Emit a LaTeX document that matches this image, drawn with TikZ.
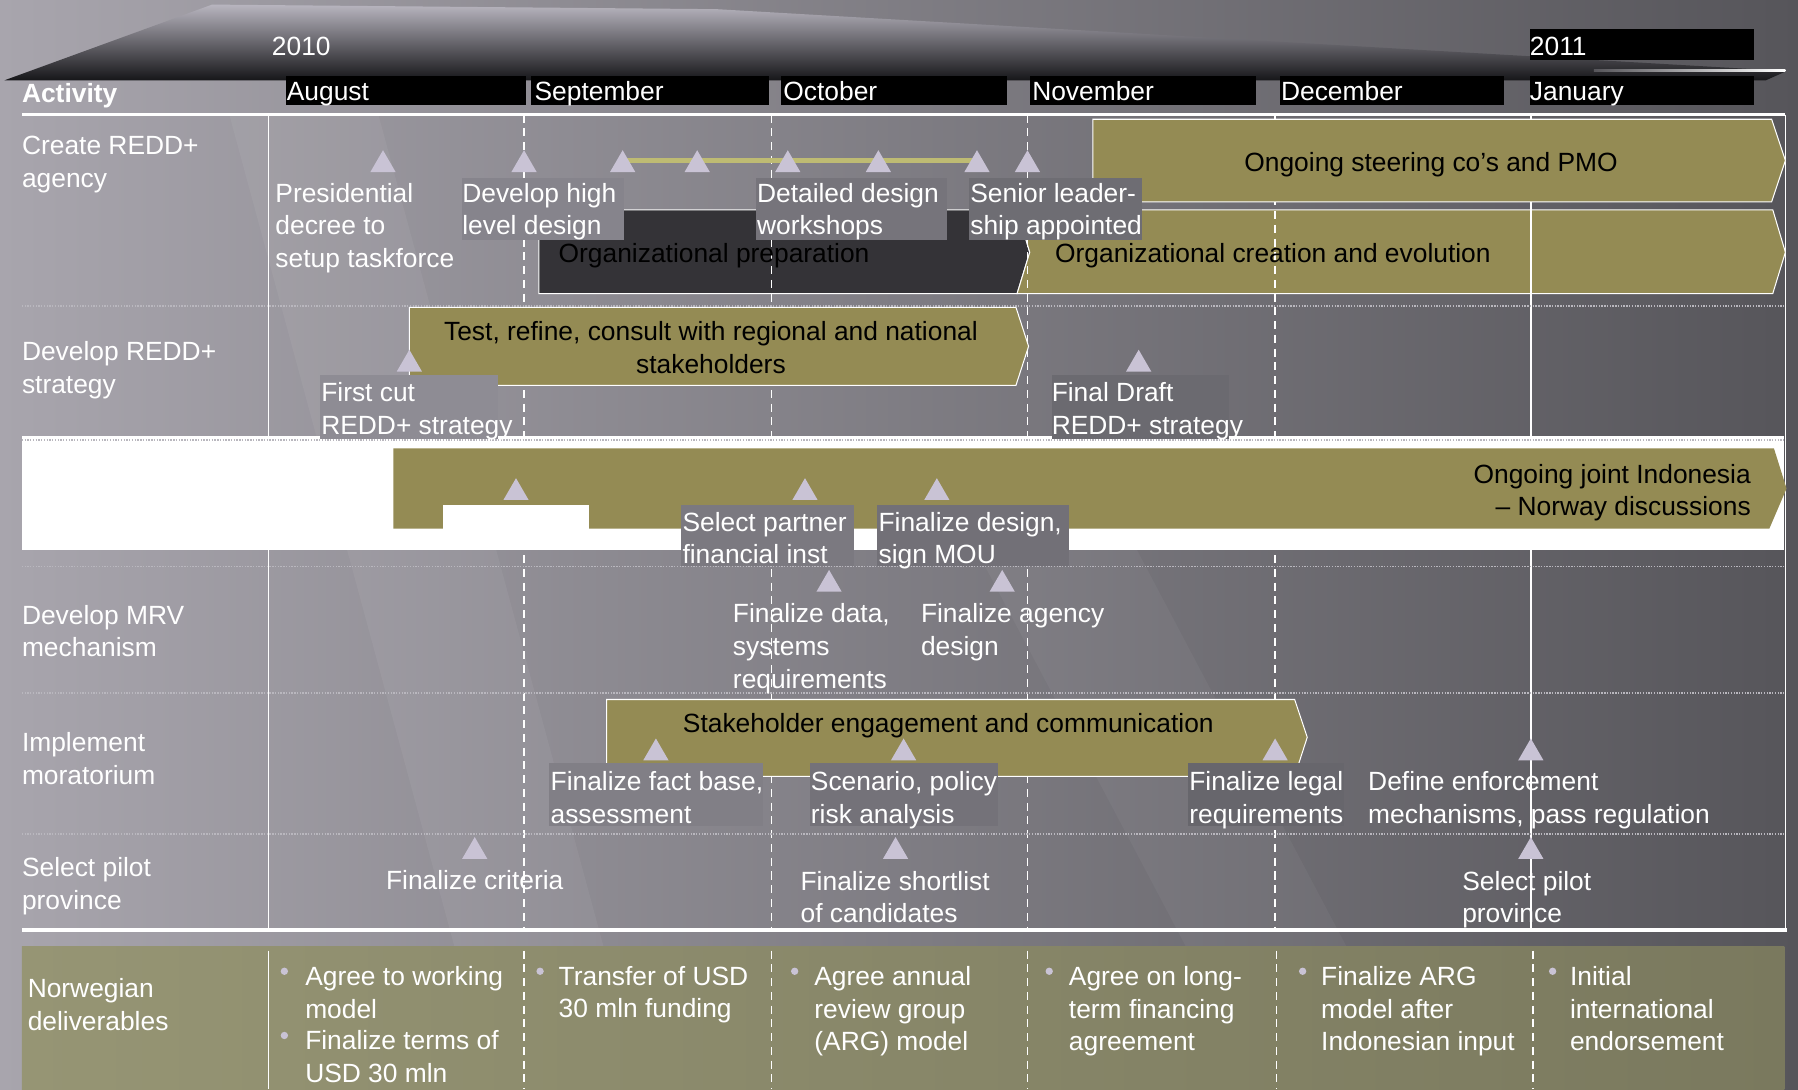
\documentclass[tikz,border=0pt]{standalone}
\usepackage{fontspec}
\setmainfont{Liberation Sans}
\definecolor{bgL}{RGB}{168,165,173}
\definecolor{bgM}{RGB}{118,116,123}
\definecolor{bgR}{RGB}{86,85,90}
\definecolor{olv}{RGB}{148,139,84}
\definecolor{dk}{RGB}{52,51,55}
\definecolor{tric}{RGB}{201,195,213}
\definecolor{ylw}{RGB}{190,187,115}
\definecolor{sepc}{RGB}{185,183,190}
\definecolor{wT}{RGB}{184,181,191}
\definecolor{wM}{RGB}{112,110,118}
\definecolor{wB}{RGB}{22,22,25}
\definecolor{dL}{RGB}{150,149,116}
\definecolor{dR}{RGB}{122,121,94}
\definecolor{bxA}{RGB}{134,132,140}
\definecolor{bxB}{RGB}{118,116,123}
\definecolor{bxC}{RGB}{110,109,115}
\definecolor{bxD}{RGB}{142,140,148}
\definecolor{bxE}{RGB}{107,106,112}
\definecolor{bxF}{RGB}{123,121,128}
\definecolor{bxG}{RGB}{114,112,119}
\definecolor{bxH}{RGB}{129,127,134}
\definecolor{bxI}{RGB}{116,114,121}
\definecolor{bxJ}{RGB}{103,102,108}
\newcommand\mtri[2]{\fill[tric] (#1-11,#2) -- (#1,#2-19) -- (#1+11,#2) -- cycle;}
\begin{document}
\begin{tikzpicture}[x=1pt,y=-1pt,
  lab/.style={font=\fontsize{23}{28.5}\selectfont, inner sep=0pt, text=white},
  ml/.style={lab, align=left, anchor=north west, yshift=-3pt, execute at begin node=\strut},
  sl/.style={lab, anchor=base west},
  blk/.style={text=black},
  chev/.style={fill=olv, draw=white, line width=0.9pt},
  gsolid/.style={white, line width=1.3pt},
  gdash/.style={white, line width=1.3pt, dash pattern=on 7pt off 5pt},
  sepline/.style={sepc, line width=1.6pt, dash pattern=on 1.2pt off 1.2pt},
]
\useasboundingbox (0,0) rectangle (1568,950);
% background
\shade[left color=bgL, middle color=bgM, right color=bgR] (0,0) rectangle (1568,950);
\fill[white, opacity=0.05] (200,100) -- (330,100) -- (560,950) -- (430,950) -- cycle;
\fill[white, opacity=0.04] (820,420) -- (960,420) -- (1240,950) -- (1100,950) -- cycle;
% top wedge
\shade[top color=wT, middle color=wM, bottom color=wB] (4,70) -- (185,4) -- (625,8) -- (1558,62) -- (1540,70) -- cycle;
\shade[left color=bgR, right color=white] (1390,60.3) rectangle (1557,62.3);
\node[sl] (y10) at (237,48) {2010};
\fill[black] (1334,25) rectangle (1530,52);
\node[sl] (y11) at (1334,48) {2011};
% month boxes
\fill[black] (249,66) rectangle (459,92);
\fill[black] (463,66) rectangle (671,92);
\fill[black] (681,66) rectangle (878,92);
\fill[black] (898,66) rectangle (1095,92);
\fill[black] (1116,66) rectangle (1312,92);
\fill[black] (1334,66) rectangle (1530,92);
\node[sl] (aug) at (250,88) {August};
\node[sl] (sep) at (466,88) {September};
\node[sl] (oct) at (683,88) {October};
\node[sl] (nov) at (900,88) {November};
\node[sl] (dec) at (1117,88) {December};
\node[sl] (jan) at (1334,88) {January};
\node[sl, font=\fontsize{23}{28}\selectfont\bfseries] (act) at (19,89.5) {Activity};
% row 1 lower chevrons (below grid lines)
\draw[fill=dk, draw=white, line width=0.9pt] (470,183) -- (887,183) -- (898,220) -- (887,256) -- (470,256) -- cycle;
\draw[chev] (887,183) -- (1546,183) -- (1557,220) -- (1546,256) -- (887,256) -- (898,220) -- cycle;
% grid
\draw[gsolid] (234,100) -- (234,811);
\draw[gsolid] (1335,100) -- (1335,811);
\foreach \gx in {457,673,896,1112} \draw[gdash] (\gx,100) -- (\gx,811);
% Norway band
\fill[white] (19,380) rectangle (1556,480);
% separators
\foreach \sy in {267,384,494,604,727} \draw[sepline] (19,\sy) -- (1556,\sy);
% frame
\draw[white, line width=3pt] (19,100) -- (1557,100);
\draw[white, line width=1.5pt] (1557,100) -- (1557,811);
\draw[white, line width=3pt] (19,811) -- (1558,811);
% row labels
\node[ml] (r1) at (19,115.4) {Create REDD+\\agency};
\node[ml] (r2) at (19,294.4) {Develop REDD+\\strategy};
\node[ml] (r4) at (19,524.4) {Develop MRV\\mechanism};
\node[ml] (r5) at (19,635.4) {Implement\\moratorium};
\node[ml] (r6) at (19,744.4) {Select pilot\\province};
% ---- row 1
\draw[chev] (953,104) -- (1545,104) -- (1557,140) -- (1545,176) -- (953,176) -- cycle;
\node[lab, blk, anchor=base] (pmo) at (1248,149.5) {Ongoing steering co’s and PMO};
\node[sl, blk] (orgp) at (487,229) {Organizational preparation};
\node[sl, blk] (orgc) at (920,229) {Organizational creation and evolution};
\draw[ylw, line width=5pt] (543,140) -- (853,140);
\foreach \tx in {334,457,543,608,687,766,852,896} {\mtri{\tx}{150}}
\fill[bxA] (403,155) rectangle (544,209);
\fill[bxB] (659,155) rectangle (826,209);
\fill[bxC] (845,155) rectangle (996,209);
\node[ml] (pres) at (240,156.4) {Presidential\\decree to\\setup taskforce};
\node[ml] (hld) at (403,156.4) {Develop high\\level design};
\node[ml] (ddw) at (660,156.4) {Detailed design\\workshops};
\node[ml] (sla) at (846,156.4) {Senior leader-\\ship appointed};
% ---- row 2
\draw[chev] (357,268) -- (886,268) -- (897,302) -- (886,336) -- (357,336) -- cycle;
\node[lab, blk, align=center, anchor=north, yshift=-3pt, execute at begin node=\strut] (test) at (620,277.4) {Test, refine, consult with regional and national\\stakeholders};
\fill[bxD] (279,327) rectangle (434,383);
\fill[bxE] (917,327) rectangle (1072,383);
\mtri{357}{324}
\mtri{993}{324}
\node[ml] (fc) at (280,330.4) {First cut\\REDD+ strategy};
\node[ml] (fd) at (917,330.4) {Final Draft\\REDD+ strategy};
% ---- Norway row
\fill[olv] (343,391) -- (1547,391) -- (1558,426) -- (1543,461) -- (343,461) -- cycle;
\fill[white] (386,440) rectangle (514,462);
\node[lab, blk, align=right, anchor=north east, yshift=-3pt, execute at begin node=\strut] (norw) at (1527,401.4) {Ongoing joint Indonesia\\– Norway discussions};
\foreach \tx in {450,702,817} {\mtri{\tx}{436}}
\fill[bxF] (594,440) rectangle (745,494);
\fill[bxG] (765,440) rectangle (932,494);
\node[ml] (spf) at (595,443.4) {Select partner\\financial inst};
\node[ml] (fdm) at (766,443.4) {Finalize design,\\sign MOU};
% ---- MRV row
\mtri{723}{516}
\mtri{874}{516}
\node[ml] (fdr) at (639,523.4) {Finalize data,\\systems\\requirements};
\node[ml] (fad) at (803,523.4) {Finalize agency\\design};
% ---- moratorium row
\draw[chev] (529,610) -- (1129,610) -- (1140,643) -- (1129,677) -- (529,677) -- cycle;
\node[lab, blk, anchor=base] (sec) at (827,639) {Stakeholder engagement and communication};
\fill[bxH] (479,665) rectangle (665,720);
\fill[bxI] (706,665) rectangle (870,720);
\fill[bxJ] (1036,665) rectangle (1172,720);
\foreach \tx in {572,788,1112,1335} {\mtri{\tx}{663}}
\node[ml] (ffb) at (480,669.4) {Finalize fact base,\\assessment};
\node[ml] (spr) at (707,669.4) {Scenario, policy\\risk analysis};
\node[ml] (flr) at (1037,669.4) {Finalize legal\\requirements};
\node[ml] (dem) at (1193,669.4) {Define enforcement\\mechanisms, pass regulation};
% ---- pilot row
\foreach \tx in {414,781,1335} {\mtri{\tx}{749}}
\node[lab, anchor=base] (fcr) at (414,776) {Finalize criteria};
\node[ml] (fsl) at (698,756.4) {Finalize shortlist\\of candidates};
\node[ml] (spp) at (1275,756.4) {Select pilot\\province};
% ---- deliverables
\shade[left color=dL, right color=dR] (19,825) rectangle (1556,950);
\draw[gsolid] (234,829) -- (234,950);
\foreach \gx in {457,673,896,1113,1337} \draw[gdash] (\gx,829) -- (\gx,950);
\node[ml] (r7) at (24,850.4) {Norwegian\\deliverables};
\foreach \bx/\by in {248/847,248/903,471/847,693/847,915/847,1136/847,1354/847} {\fill[tric] (\bx,\by) circle (3.2);}
\node[ml] (d1a) at (266,839.4) {Agree to working\\model};
\node[ml] (d1b) at (266,895.4) {Finalize terms of\\USD 30 mln};
\node[ml] (d2) at (487,839.4) {Transfer of USD\\30 mln funding};
\node[ml] (d3) at (710,839.4) {Agree annual\\review group\\(ARG) model};
\node[ml] (d4) at (932,839.4) {Agree on long-\\term financing\\agreement};
\node[ml] (d5) at (1152,839.4) {Finalize ARG\\model after\\Indonesian input};
\node[ml] (d6) at (1369,839.4) {Initial\\international\\endorsement};
\end{tikzpicture}
\end{document}
